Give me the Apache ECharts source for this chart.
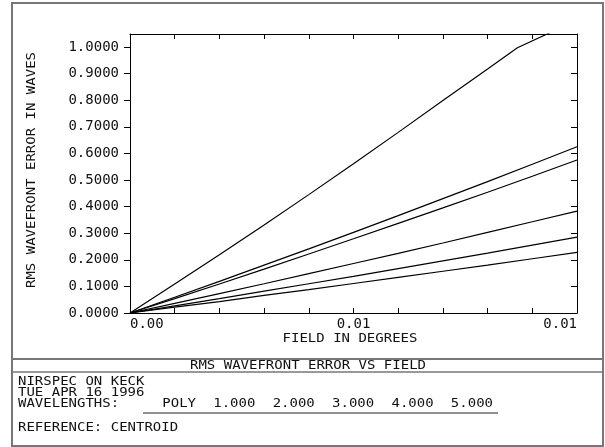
<!DOCTYPE html>
<html>
<head>
<meta charset="utf-8">
<script src="https://cdn.jsdelivr.net/npm/echarts@6/dist/echarts.min.js"></script>
<style>
  html, body { margin: 0; padding: 0; background: #fff; }
  #main { width: 605px; height: 447px; }
</style>
</head>
<body>
<div id="main"></div>
<script>
// field points (degrees) used for the wavelength curves
var fieldDeg = [0, 0.0015, 0.003, 0.0045, 0.006, 0.0075, 0.009, 0.0105, 0.012, 0.0135, 0.015]
var rmsPoly = [0, 0.059, 0.119, 0.180, 0.241, 0.303, 0.366, 0.430, 0.494, 0.559, 0.625]
var rms2 = [0, 0.054, 0.109, 0.165, 0.222, 0.279, 0.337, 0.395, 0.454, 0.514, 0.575]
var rms3 = [0, 0.036, 0.073, 0.110, 0.148, 0.186, 0.224, 0.263, 0.303, 0.343, 0.383]
var rms4 = [0, 0.027, 0.054, 0.082, 0.110, 0.138, 0.167, 0.196, 0.225, 0.255, 0.285]
var rms5 = [0, 0.022, 0.043, 0.066, 0.088, 0.111, 0.134, 0.157, 0.180, 0.204, 0.228]
// 1.000 curve runs off the top of the plot
var field1 = [0, 0.0015, 0.003, 0.0045, 0.006, 0.0075, 0.009, 0.0105, 0.012, 0.013, 0.015]
var rms1 = [0, 0.109, 0.219, 0.331, 0.445, 0.561, 0.679, 0.799, 0.917, 0.997, 1.101]

var yTicks = [0, 0.1, 0.2, 0.3, 0.4, 0.5, 0.6, 0.7, 0.8, 0.9, 1.0]
var xTicks = [0, 0.0015, 0.003, 0.0045, 0.006, 0.0075, 0.009, 0.0105, 0.012, 0.0135, 0.015]
var xLabelValues = [0, 0.0075, 0.015]
var xLabels = ['0.00', '0.01', '0.01']
var waveLabels = ['POLY', '1.000', '2.000', '3.000', '4.000', '5.000']

var FONT = '14px "DejaVu Sans Mono", monospace'
var frameColor = '#777'

function pairs(xs, ys) {
  return xs.map(function (x, i) { return [x, ys[i]] })
}

function curve(name, xs, ys) {
  return {
    name: name,
    type: 'line',
    data: pairs(xs, ys),
    showSymbol: false,
    clip: true,
    lineStyle: { color: '#000', width: 1.2 },
    xAxisIndex: 0,
    yAxisIndex: 0
  }
}

// plot-style text, squashed a little to match the stroke font
function txt(s, x, y, align, rot) {
  return {
    type: 'text',
    x: x, y: y,
    rotation: rot || 0,
    scaleY: 0.88,
    style: {
      text: s, font: FONT, fill: '#111',
      align: align || 'left', textAlign: align || 'left',
      verticalAlign: 'middle', textVerticalAlign: 'middle'
    }
  }
}

var graphics = [
  // outer frame and divider lines
  { type: 'rect', shape: { x: 12, y: 3, width: 591, height: 443 },
    style: { fill: null, stroke: frameColor, lineWidth: 2 } },
  { type: 'line', shape: { x1: 12, y1: 359, x2: 603, y2: 359 },
    style: { stroke: frameColor, lineWidth: 2 } },
  { type: 'line', shape: { x1: 12, y1: 372, x2: 603, y2: 372 },
    style: { stroke: frameColor, lineWidth: 1.5 } },
  // wavelength underline
  { type: 'line', shape: { x1: 143, y1: 413, x2: 498, y2: 413 },
    style: { stroke: '#222', lineWidth: 1 } },
  txt('RMS WAVEFRONT ERROR IN WAVES', 32, 170, 'center', Math.PI / 2),
  txt('FIELD IN DEGREES', 350, 339, 'center'),
  txt('RMS WAVEFRONT ERROR VS FIELD', 308, 366, 'center'),
  txt('NIRSPEC ON KECK', 18, 382),
  txt('TUE APR 16 1996', 18, 393),
  txt('WAVELENGTHS:', 18, 404),
  txt('REFERENCE: CENTROID', 18, 428)
]
waveLabels.forEach(function (s, i) {
  graphics.push(txt(s, 196 + i * 59.4, 404, 'right'))
})

var axisLine = { show: true, onZero: false, lineStyle: { color: '#000', width: 1 } }

var option = {
  animation: false,
  backgroundColor: '#fff',
  grid: { left: 130, right: 28, top: 34, bottom: 134, containLabel: false },
  xAxis: [
    {
      type: 'value', min: 0, max: 0.015, position: 'bottom',
      axisLine: axisLine,
      axisTick: { show: true, inside: true, length: 5, customValues: xTicks, lineStyle: { color: '#000' } },
      axisLabel: {
        show: true, customValues: xLabelValues, margin: 4,
        fontFamily: 'DejaVu Sans Mono', fontSize: 14, color: '#111',
        alignMinLabel: 'left', alignMaxLabel: 'right',
        formatter: function (v) {
          var i = xLabelValues.indexOf(v)
          return i >= 0 ? xLabels[i] : ''
        }
      },
      splitLine: { show: false }
    },
    {
      type: 'value', min: 0, max: 0.015, position: 'top',
      axisLine: axisLine,
      axisTick: { show: true, inside: true, length: 5, customValues: xTicks, lineStyle: { color: '#000' } },
      axisLabel: { show: false },
      splitLine: { show: false }
    }
  ],
  yAxis: [
    {
      type: 'value', min: 0, max: 1.0488, position: 'left',
      axisLine: axisLine,
      axisTick: { show: true, inside: false, length: 6, customValues: yTicks, lineStyle: { color: '#000' } },
      axisLabel: {
        show: true, customValues: yTicks, margin: 11,
        fontFamily: 'DejaVu Sans Mono', fontSize: 14, color: '#111',
        formatter: function (v) { return v.toFixed(4) }
      },
      splitLine: { show: false }
    },
    {
      type: 'value', min: 0, max: 1.0488, position: 'right',
      axisLine: axisLine,
      axisTick: { show: true, inside: true, length: 6, customValues: yTicks, lineStyle: { color: '#000' } },
      axisLabel: { show: false },
      splitLine: { show: false }
    }
  ],
  series: [
    curve('POLY', fieldDeg, rmsPoly),
    curve('1.000', field1, rms1),
    curve('2.000', fieldDeg, rms2),
    curve('3.000', fieldDeg, rms3),
    curve('4.000', fieldDeg, rms4),
    curve('5.000', fieldDeg, rms5)
  ],
  graphic: graphics
}

var myChart = echarts.init(document.getElementById('main'))
myChart.setOption(option)
</script>
</body>
</html>
